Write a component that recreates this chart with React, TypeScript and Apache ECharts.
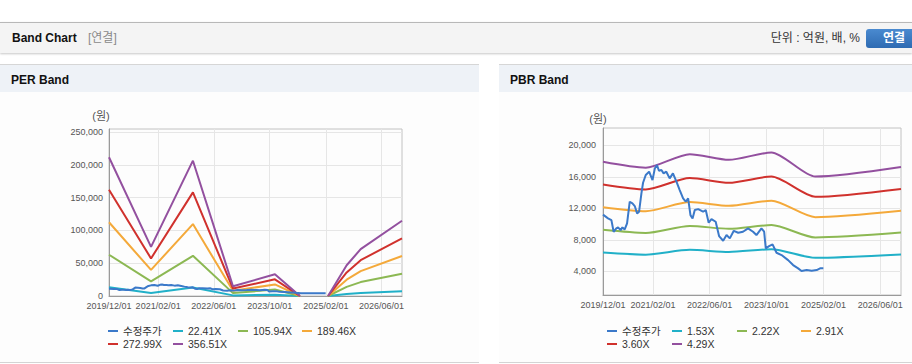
import React, { useEffect, useRef } from 'react';
import * as echarts from 'echarts';

// ---------- data ----------
const X_MIN = '2019-12-01';
const X_MAX = '2026-11-26';
const X_LABEL_DATES = ['2019-12-01', '2021-02-01', '2022-06-01', '2023-10-01', '2025-02-01', '2026-06-01'];

const PRICE_NAME = '수정주가';
const PRICE_DATES = [
  '2019-12-01', '2020-01-13', '2020-02-11', '2020-03-01', '2020-03-24', '2020-04-08', '2020-04-30',
  '2020-05-15', '2020-06-04', '2020-06-24', '2020-07-17', '2020-08-09', '2020-08-29', '2020-09-18',
  '2020-10-05', '2020-10-25', '2020-11-08', '2020-12-01', '2020-12-30', '2021-01-28', '2021-02-17',
  '2021-03-07', '2021-03-24', '2021-04-14', '2021-05-03', '2021-05-26', '2021-06-24', '2021-07-22',
  '2021-08-21', '2021-09-18', '2021-10-17', '2021-11-09', '2021-11-29', '2021-12-19', '2022-01-06',
  '2022-01-25', '2022-02-23', '2022-04-06', '2022-04-29', '2022-05-24', '2022-06-17', '2022-07-23',
  '2022-08-21', '2022-09-25', '2022-10-24', '2022-11-21', '2022-12-25', '2023-02-01', '2023-03-14',
  '2023-04-26', '2023-06-08', '2023-07-07', '2023-08-19', '2023-09-11', '2023-09-25', '2023-10-23',
  '2023-11-22', '2023-12-26', '2024-02-07', '2024-04-03', '2024-05-16', '2024-06-28', '2024-07-27',
  '2024-09-09', '2024-10-22', '2024-12-04', '2025-01-02', '2025-01-30',
];
const PRICE_VALUES = [
  11200, 10730, 10500, 9030, 9450, 9580, 9240,
  9580, 9330, 10090, 12840, 12630, 12290, 11360,
  11570, 13900, 15250, 16230, 16650, 15590, 17070,
  17500, 16770, 16860, 16440, 16650, 15800, 16440,
  15380, 14320, 13260, 12840, 13260, 11140, 10720,
  11780, 11900, 11570, 11780, 10170, 10640, 10300,
  8480, 7890, 8610, 8190, 9150, 8900, 9030,
  9460, 9030, 8610, 9460, 9030, 6920, 7210,
  7430, 6360, 6070, 5430, 4800, 4380, 4040,
  4170, 4080, 4170, 4380, 4380,
];

const PER_NAMES = ['22.41X', '105.94X', '189.46X', '272.99X', '356.51X'];
const PER_DATES = ['2019-12-01', '2020-12-01', '2021-12-01', '2022-11-15', '2023-11-15', '2024-06-20',
  '2024-10-01', '2025-02-20', '2025-08-01', '2025-12-01', '2026-11-26'];
const PER_22 = [13300, 4700, 12970, 930, 2090, 0, null, 0, 2950, 4490, 7210];
const PER_105 = [62880, 22230, 61310, 4400, 9860, 0, null, 0, 13940, 21220, 34080];
const PER_189 = [112440, 39750, 109640, 7860, 17640, 0, null, 0, 24930, 37950, 60950];
const PER_272 = [162020, 57270, 157980, 11330, 25420, 0, null, 0, 35930, 54680, 87820];
const PER_356 = [211600, 74800, 206300, 14800, 33200, 0, null, 0, 46900, 71400, 114700];
const PER_Y_TICKS = [0, 50000, 100000, 150000, 200000, 250000];

const PBR_NAMES = ['1.53X', '2.22X', '2.91X', '3.60X', '4.29X'];
const PBR_DATES = ['2019-12-01', '2020-12-01', '2021-12-13', '2022-11-13', '2023-11-13', '2024-11-22', '2026-11-26'];
const PBR_153 = [6390, 6120, 6730, 6470, 6810, 5720, 6150];
const PBR_222 = [9270, 8880, 9770, 9400, 9880, 8300, 8920];
const PBR_291 = [12150, 11640, 12800, 12320, 12960, 10880, 11700];
const PBR_360 = [15030, 14400, 15840, 15240, 16030, 13460, 14470];
const PBR_429 = [17910, 17160, 18880, 18160, 19100, 16040, 17250];
const PBR_Y_TICKS = [4000, 8000, 12000, 16000, 20000];

// ---------- styles ----------
const PRICE_COLOR = '#3b79c9';
const BAND_COLORS = ['#21b0c8', '#8cb853', '#f4a93a', '#d0312d', '#93509f'];
const FONT = "'Liberation Sans', Arial, 'Noto Sans CJK KR', sans-serif";
const LEGEND_COL_X = [108, 173, 238, 302];
const LEGEND_ROW_TOP = [233, 246];

const ts = (s: string) => {
  const [y, m, d] = s.split('-').map(Number);
  return new Date(y, m - 1, d).getTime();
};
const pad = (n: number) => (n < 10 ? '0' + n : '' + n);
const fmtDate = (v: number) => {
  const d = new Date(v);
  return `${d.getFullYear()}/${pad(d.getMonth() + 1)}/${pad(d.getDate())}`;
};
const fmtNum = (v: number) => String(Math.round(v)).replace(/\B(?=(\d{3})+(?!\d))/g, ',');

type Cfg = {
  bandNames: string[];
  bandDates: string[];
  bandValues: (number | null)[][];
  bandSmooth: number | boolean;
  yMin: number;
  yMax: number;
  yTicks: number[];
  grid: { left: number; top: number; width: number; height: number };
  nameGap: number;
  namePad: number;
  yLabelMargin: number;
};

function buildOption(cfg: Cfg) {
  const xTicks = X_LABEL_DATES.map(ts);
  const bandSeries = cfg.bandNames.map((name, i) => ({
    name,
    type: 'line',
    data: cfg.bandDates.map((d, j) => [ts(d), cfg.bandValues[i][j]]),
    symbol: 'none',
    showSymbol: false,
    connectNulls: false,
    smooth: cfg.bandSmooth,
    smoothMonotone: 'x',
    lineStyle: { width: 2, color: BAND_COLORS[i] },
    itemStyle: { color: BAND_COLORS[i] },
    silent: true,
    z: 2,
  }));
  const priceSeries = {
    name: PRICE_NAME,
    type: 'line',
    data: PRICE_DATES.map((d, j) => [ts(d), PRICE_VALUES[j]]),
    symbol: 'none',
    showSymbol: false,
    lineStyle: { width: 2, color: PRICE_COLOR },
    itemStyle: { color: PRICE_COLOR },
    silent: true,
    z: 3,
  };
  const names = [PRICE_NAME, ...cfg.bandNames];
  const legend = names.map((n, i) => ({
    data: [n],
    left: LEGEND_COL_X[i % 4],
    top: LEGEND_ROW_TOP[Math.floor(i / 4)],
    padding: 0,
    icon: 'rect',
    itemWidth: 10,
    itemHeight: 2,
    itemGap: 0,
    selectedMode: false,
    textStyle: { fontSize: 10.5, color: '#333', fontFamily: FONT, lineHeight: 12 },
  }));
  return {
    animation: false,
    backgroundColor: 'transparent',
    textStyle: { fontFamily: FONT },
    grid: {
      left: cfg.grid.left,
      top: cfg.grid.top,
      width: cfg.grid.width,
      height: cfg.grid.height,
      show: true,
      borderColor: '#c2c2c2',
      borderWidth: 1,
      backgroundColor: 'transparent',
    },
    legend,
    xAxis: {
      type: 'value',
      min: ts(X_MIN),
      max: ts(X_MAX),
      axisLine: { show: true, onZero: false, lineStyle: { color: '#9a9a9a' } },
      axisTick: { show: false, customValues: xTicks },
      axisLabel: { customValues: xTicks, formatter: fmtDate, color: '#555', fontSize: 9, margin: 5, fontFamily: FONT },
      splitLine: { show: true, lineStyle: { color: '#e6e6e6' } },
    },
    yAxis: {
      type: 'value',
      min: cfg.yMin,
      max: cfg.yMax,
      name: '(원)',
      nameLocation: 'end',
      nameGap: cfg.nameGap,
      nameTextStyle: { color: '#555', fontSize: 11, padding: [0, cfg.namePad, 0, 0], fontFamily: FONT },
      axisLine: { show: true, onZero: false, lineStyle: { color: '#9a9a9a' } },
      axisTick: { show: false, customValues: cfg.yTicks },
      axisLabel: { customValues: cfg.yTicks, formatter: fmtNum, color: '#555', fontSize: 9, margin: cfg.yLabelMargin, fontFamily: FONT },
      splitLine: { show: true, lineStyle: { color: '#e6e6e6' } },
    },
    series: [...bandSeries, priceSeries],
  };
}

const PER_OPTION_CFG: Cfg = {
  bandNames: PER_NAMES,
  bandDates: PER_DATES,
  bandValues: [PER_22, PER_105, PER_189, PER_272, PER_356],
  bandSmooth: false,
  yMin: 0,
  yMax: 254600,
  yTicks: PER_Y_TICKS,
  grid: { left: 109, top: 37, width: 293, height: 167 },
  nameGap: 8,
  namePad: 16,
  yLabelMargin: 6,
};

const PBR_OPTION_CFG: Cfg = {
  bandNames: PBR_NAMES,
  bandDates: PBR_DATES,
  bandValues: [PBR_153, PBR_222, PBR_291, PBR_360, PBR_429],
  bandSmooth: 0.25,
  yMin: 1000,
  yMax: 22200,
  yTicks: PBR_Y_TICKS,
  grid: { left: 104, top: 36, width: 298, height: 167 },
  nameGap: 4,
  namePad: 10,
  yLabelMargin: 7,
};

function Chart({ cfg, style }: { cfg: Cfg; style: React.CSSProperties }) {
  const ref = useRef<HTMLDivElement>(null);
  useEffect(() => {
    if (!ref.current) return;
    const chart = echarts.init(ref.current, undefined, { renderer: 'svg' });
    chart.setOption(buildOption(cfg) as any);
    return () => chart.dispose();
  }, [cfg]);
  return <div ref={ref} style={style} />;
}

function Panel({ left, width, title, cfg }: { left: number; width: number; title: string; cfg: Cfg }) {
  return (
    <>
      <div
        style={{
          position: 'absolute', left, top: 64, width, height: 27,
          background: '#eef2f7', borderTop: '1px solid #d6d6d6',
        }}
      >
        <span style={{ position: 'absolute', left: 11, top: 8, fontSize: 12, lineHeight: '14px', fontWeight: 'bold', color: '#111' }}>
          {title}
        </span>
      </div>
      <div
        style={{
          position: 'absolute', left, top: 92, width, height: 270,
          background: '#fdfdfd', borderBottom: '1px solid #d4d4d4',
        }}
      >
        <Chart cfg={cfg} style={{ position: 'absolute', left: 0, top: 0, width, height: 270 }} />
      </div>
    </>
  );
}

export default function App() {
  useEffect(() => {
    document.body.style.margin = '0';
  }, []);
  return (
    <div style={{ position: 'relative', width: 912, height: 364, background: '#fff', overflow: 'hidden', fontFamily: FONT }}>
      <div
        style={{
          position: 'absolute', left: 0, top: 22, width: 912, height: 30,
          background: '#f4f4f4', borderTop: '1px solid #b8b8b8', boxShadow: '0 1px 2px rgba(0,0,0,0.22)',
        }}
      >
        <span style={{ position: 'absolute', left: 12, top: 8, fontSize: 12, lineHeight: '14px', fontWeight: 'bold', color: '#111' }}>Band Chart</span>
        <span style={{ position: 'absolute', left: 88, top: 8, fontSize: 12, lineHeight: '14px', color: '#8a8a8a' }}>[연결]</span>
        <span style={{ position: 'absolute', right: 52, top: 8, fontSize: 12, lineHeight: '14px', color: '#333' }}>단위 : 억원, 배, %</span>
        <div
          style={{
            position: 'absolute', left: 866, top: 6, width: 60, height: 19,
            background: 'linear-gradient(#4a8ad0, #2e6bb2)', borderRadius: 3,
            color: '#fff', fontWeight: 'bold', fontSize: 12, lineHeight: '19px', paddingLeft: 17, boxSizing: 'border-box',
          }}
        >
          연결
        </div>
      </div>
      <Panel left={0} width={479} title="PER Band" cfg={PER_OPTION_CFG} />
      <Panel left={499} width={413} title="PBR Band" cfg={PBR_OPTION_CFG} />
    </div>
  );
}
